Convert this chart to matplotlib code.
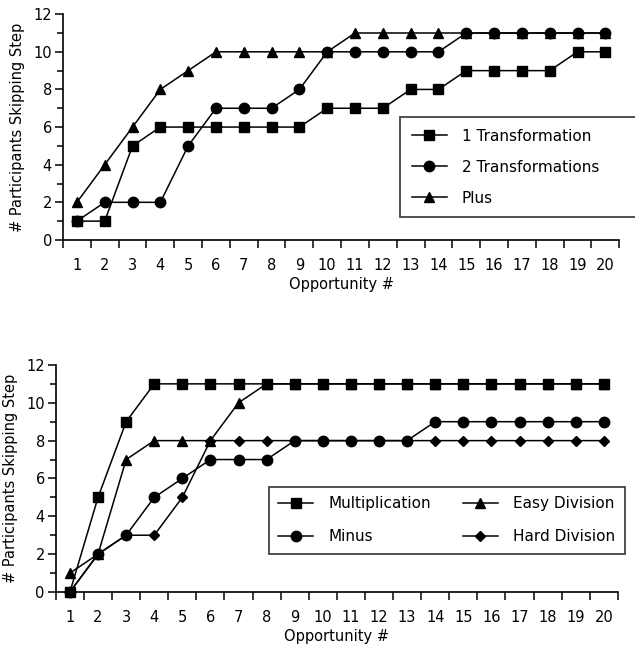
import matplotlib
matplotlib.use("Agg")
import matplotlib.pyplot as plt
import numpy as np

opportunity = list(range(1, 21))

# Top panel
one_transformation = [1, 1, 5, 6, 6, 6, 6, 6, 6, 7, 7, 7, 8, 8, 9, 9, 9, 9, 10, 10]
two_transformations = [1, 2, 2, 2, 5, 7, 7, 7, 8, 10, 10, 10, 10, 10, 11, 11, 11, 11, 11, 11]
plus = [2, 4, 6, 8, 9, 10, 10, 10, 10, 10, 11, 11, 11, 11, 11, 11, 11, 11, 11, 11]

# Bottom panel
multiplication = [0, 5, 9, 11, 11, 11, 11, 11, 11, 11, 11, 11, 11, 11, 11, 11, 11, 11, 11, 11]
minus = [0, 2, 3, 5, 6, 7, 7, 7, 8, 8, 8, 8, 8, 9, 9, 9, 9, 9, 9, 9]
easy_division = [1, 2, 7, 8, 8, 8, 10, 11, 11, 11, 11, 11, 11, 11, 11, 11, 11, 11, 11, 11]
hard_division = [0, 2, 3, 3, 5, 8, 8, 8, 8, 8, 8, 8, 8, 8, 8, 8, 8, 8, 8, 8]

y_ticks = [0, 2, 4, 6, 8, 10, 12]
x_label = "Opportunity #"
y_label = "# Participants Skipping Step"

plt.rcParams['font.family'] = ['DejaVu Sans']

fig = plt.figure(figsize=(6.35, 6.45), dpi=100)
ax1 = fig.add_axes([0.0992, 0.628, 0.876, 0.350])
ax2 = fig.add_axes([0.088, 0.0822, 0.885, 0.352])

lw = 1.1
def style(ax):
    ax.set_xlim(0.5, 20.5)
    ax.set_ylim(0, 12)
    ax.spines['top'].set_visible(False)
    ax.spines['right'].set_visible(False)
    ax.spines['left'].set_linewidth(1.2)
    ax.spines['bottom'].set_linewidth(1.2)
    ax.set_xticks(opportunity)
    ax.set_xticks(np.arange(0.5, 21, 1), minor=True)
    ax.set_yticks(y_ticks)
    ax.set_yticks(np.arange(1, 12, 2), minor=True)
    ax.tick_params(axis='x', which='major', length=0, labelsize=10.5, pad=13)
    ax.tick_params(axis='x', which='minor', length=6, width=1.1, direction='out')
    ax.tick_params(axis='y', which='major', length=6, width=1.1, labelsize=10.5, pad=2)
    ax.tick_params(axis='y', which='minor', length=4, width=1.1)
    ax.set_xlabel(x_label, fontsize=10.5, labelpad=3)
    ax.set_ylabel(y_label, fontsize=10.5, labelpad=6)

style(ax1)
ax1.plot(opportunity, one_transformation, color='black', lw=lw, marker='s', ms=7.5, label='1 Transformation', clip_on=False)
ax1.plot(opportunity, two_transformations, color='black', lw=lw, marker='o', ms=7.5, label='2 Transformations', clip_on=False)
ax1.plot(opportunity, plus, color='black', lw=lw, marker='^', ms=7, label='Plus', clip_on=False)
leg1 = ax1.legend(loc='upper left', bbox_to_anchor=(0.606, 0.544, 0.45, 0.0), mode='expand',
                  fontsize=11, frameon=True, fancybox=False, edgecolor='black',
                  handlelength=2.3, handletextpad=1.0, labelspacing=1.05, borderpad=0.75,
                  borderaxespad=0)
leg1.get_frame().set_linewidth(1.2)

style(ax2)
ax2.plot(opportunity, multiplication, color='black', lw=lw, marker='s', ms=7.5, label='Multiplication', clip_on=False)
ax2.plot(opportunity, minus, color='black', lw=lw, marker='o', ms=7.5, label='Minus', clip_on=False)
ax2.plot(opportunity, easy_division, color='black', lw=lw, marker='^', ms=7, label='Easy Division', clip_on=False)
ax2.plot(opportunity, hard_division, color='black', lw=lw, marker='D', ms=5, label='Hard Division', clip_on=False)
leg2 = ax2.legend(loc='upper left', bbox_to_anchor=(0.379, 0.463, 0.633, 0.0), mode='expand', ncol=2,
                  fontsize=11, frameon=True, fancybox=False, edgecolor='black',
                  handlelength=2.3, handletextpad=1.0, labelspacing=1.2, borderpad=0.6,
                  columnspacing=0.8, borderaxespad=0)
leg2.get_frame().set_linewidth(1.2)

fig.savefig('out.png', dpi=100)
